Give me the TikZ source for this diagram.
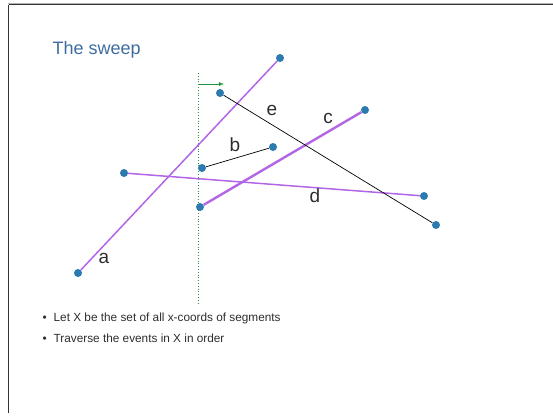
\documentclass[tikz,border=0pt]{standalone}
\usepackage{fontspec}
\setmainfont{Liberation Sans}
\definecolor{dotblue}{RGB}{44,123,176}
\definecolor{segpurple}{RGB}{178,102,230}
\definecolor{sweepgreen}{RGB}{30,150,60}
\definecolor{titleblue}{RGB}{62,108,158}
\definecolor{labelgray}{RGB}{45,45,45}
\tikzset{
  endpt/.style={circle,fill=dotblue,inner sep=0pt,minimum size=8pt},
  seg/.style={segpurple,line width=1.5pt},
  thickseg/.style={segpurple,line width=2.4pt},
  blackseg/.style={black,line width=0.7pt},
  seglabel/.style={text=labelgray,font=\fontsize{19}{21}\selectfont},
  bullettext/.style={anchor=base west,text=labelgray,font=\fontsize{11.8}{14}\selectfont}
}
\begin{document}
\begin{tikzpicture}[x=1pt,y=-1pt]
\useasboundingbox (0,0) rectangle (553,416);
\draw[gray!60,line width=0.8pt] (8,3.5) -- (553,3.5);
\draw[black!80,line width=1.2pt] (8.5,4.8) -- (553,4.8);
\draw[black!80,line width=0.9pt] (8.5,4.5) -- (8.5,413);

\node[anchor=base west,text=titleblue,font=\fontsize{18}{20}\selectfont] (title) at (49,54) {The sweep};

\coordinate (sweeptop) at (198,73);
\coordinate (sweepbot) at (198,303);
\draw[sweepgreen,dotted,line width=0.8pt] (sweeptop) -- (sweepbot);
\coordinate (arrowstart) at (198,84);
\coordinate (arrowend) at (224,84);
\draw[sweepgreen,line width=0.8pt,-latex] (arrowstart) -- (arrowend);

\node[endpt] (a1) at (78,273) {};
\node[endpt] (a2) at (280,58) {};
\node[endpt] (b1) at (202,168) {};
\node[endpt] (b2) at (273,147) {};
\node[endpt] (c1) at (200,207) {};
\node[endpt] (c2) at (365,110) {};
\node[endpt] (d1) at (124,173) {};
\node[endpt] (d2) at (424,196) {};
\node[endpt] (e1) at (220,93) {};
\node[endpt] (e2) at (436,225) {};

\draw[seg] (a1) -- (a2);
\draw[seg] (d1) -- (d2);
\draw[thickseg] (c1) -- (c2);
\draw[blackseg] (b1) -- (b2);
\draw[blackseg] (e1) -- (e2);

\node[seglabel] (la) at (104,258) {a};
\node[seglabel] (lb) at (235,145) {b};
\node[seglabel] (lc) at (328,118) {c};
\node[seglabel] (ld) at (315,196) {d};
\node[seglabel] (le) at (272,110) {e};

\node[bullettext] (bullet1) at (39,321) {\textbullet\hspace{7pt}Let X be the set of all x-coords of segments};
\node[bullettext] (bullet2) at (39,342) {\textbullet\hspace{7pt}Traverse the events in X in order};
\end{tikzpicture}
\end{document}
